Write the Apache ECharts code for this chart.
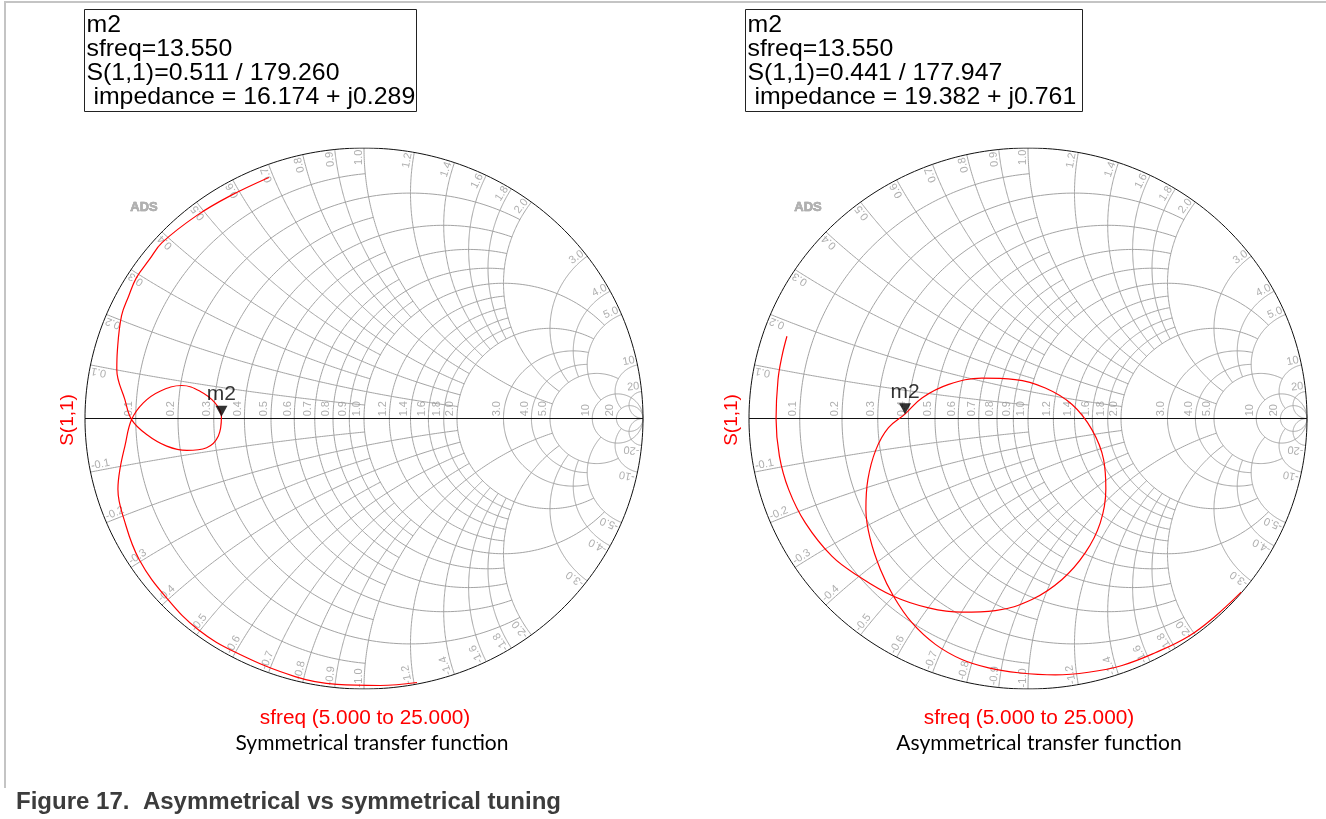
<!DOCTYPE html>
<html><head><meta charset="utf-8">
<script src="https://cdn.jsdelivr.net/npm/echarts@6/dist/echarts.min.js"></script>
<style>html,body{margin:0;padding:0;background:#fff}#c{width:1326px;height:819px}</style>
</head><body><div id="c"></div>
<script>
// ---------- values ----------
// Smith-chart grid values (normalised resistance / reactance) and how far each line runs
const rValues = [0.1,0.2,0.3,0.4,0.5,0.6,0.7,0.8,0.9,1.0,1.2,1.4,1.6,1.8,2.0,3.0,4.0,5.0,10,20];
const rLimits = [1,2,1,2,1,2,1,2,1,5,2,2,2,2,5,5,5,10,Infinity,Infinity];
const xValues = [0.1,0.2,0.3,0.4,0.5,0.6,0.7,0.8,0.9,1.0,1.2,1.4,1.6,1.8,2.0,3.0,4.0,5.0,10,20];
const xLimits = [1,2,1,2,1,2,1,2,1,5,2,2,2,2,5,5,5,10,20,Infinity];
const tickLabels = ['0.1','0.2','0.3','0.4','0.5','0.6','0.7','0.8','0.9','1.0','1.2','1.4','1.6','1.8','2.0','3.0','4.0','5.0','10','20'];

// S(1,1) traces, reflection coefficient (real, imaginary), sfreq 5 -> 25
const symRe = [0.190,0.057,-0.097,-0.247,-0.459,-0.595,-0.703,-0.806,-0.860,-0.882,-0.875,-0.857,-0.833,-0.791,-0.731,-0.653,-0.588,-0.534,-0.511,-0.522,-0.564,-0.635,-0.707,-0.779,-0.833,-0.857,-0.886,-0.884,-0.869,-0.844,-0.816,-0.769,-0.724,-0.600,-0.480,-0.341];
const symIm = [-0.976,-0.987,-0.983,-0.954,-0.865,-0.780,-0.669,-0.521,-0.373,-0.262,-0.189,-0.102,-0.004,0.058,0.101,0.122,0.101,0.058,0.007,-0.065,-0.108,-0.118,-0.102,-0.059,-0.004,0.070,0.181,0.250,0.380,0.451,0.520,0.588,0.650,0.750,0.823,0.891];
const asymRe = [0.764,0.671,0.576,0.456,0.337,0.217,0.098,-0.034,-0.141,-0.237,-0.332,-0.416,-0.482,-0.529,-0.565,-0.581,-0.574,-0.545,-0.500,-0.441,-0.380,-0.284,-0.165,-0.046,0.062,0.158,0.229,0.271,0.279,0.259,0.205,0.122,0.014,-0.117,-0.237,-0.356,-0.482,-0.607,-0.703,-0.798,-0.858,-0.891,-0.903,-0.896,-0.882,-0.864];
const asymIm = [-0.642,-0.731,-0.805,-0.866,-0.913,-0.938,-0.948,-0.940,-0.922,-0.891,-0.835,-0.755,-0.657,-0.558,-0.447,-0.336,-0.226,-0.115,-0.034,0.016,0.076,0.126,0.149,0.144,0.113,0.052,-0.041,-0.152,-0.262,-0.386,-0.497,-0.595,-0.669,-0.710,-0.716,-0.700,-0.657,-0.583,-0.509,-0.386,-0.262,-0.139,-0.001,0.144,0.230,0.304];

// marker m2
const markerMag = [0.511, 0.441];
const markerAng = [179.260, 177.947];
const markerLines = [
  ['m2','sfreq=13.550','S(1,1)=0.511 / 179.260',' impedance = 16.174 + j0.289'],
  ['m2','sfreq=13.550','S(1,1)=0.441 / 177.947',' impedance = 19.382 + j0.761']
];
const chartTitles = ['Symmetrical transfer function','Asymmetrical transfer function'];
const sweepText = 'sfreq (5.000 to 25.000)';
const caption = 'Figure 17.  Asymmetrical vs symmetrical tuning';

// ---------- geometry helpers ----------
function gamma(r, x){ const d=(r+1)*(r+1)+x*x; return [(r*r-1+x*x)/d, 2*x/d]; }
function rCurve(r, xmax){
  const pm = isFinite(xmax) ? Math.atan(xmax/(1+r)) : Math.PI/2-1e-4;
  const pts=[]; const N=220;
  for(let k=0;k<=N;k++){ const p=-pm+2*pm*k/N; pts.push(gamma(r,(1+r)*Math.tan(p))); }
  return pts;
}
function xCurve(x, rmax){
  const ax=Math.abs(x); const hi=Math.atan(ax);
  const lo = isFinite(rmax) ? Math.atan(ax/(rmax+1)) : 1e-4;
  const pts=[]; const N=160;
  for(let k=0;k<=N;k++){ const a=hi+(lo-hi)*k/N; const r=Math.max(ax/Math.tan(a)-1,0); pts.push(gamma(r,x)); }
  return pts;
}
const SX=279, SY=270.5;
const grids=[{left:85,top:148,width:558,height:541},{left:749,top:148,width:558,height:541}];
const FONT='"Liberation Sans", Arial, sans-serif';

const gridCurves=[];
rValues.forEach((r,k)=>gridCurves.push({coords:rCurve(r,rLimits[k])}));
xValues.forEach((x,k)=>{ gridCurves.push({coords:xCurve(x,xLimits[k])}); gridCurves.push({coords:xCurve(-x,xLimits[k])}); });
const rim=[]; for(let k=0;k<=360;k++){ const t=k*Math.PI/180; rim.push([Math.cos(t),Math.sin(t)]); }
const outline=[{coords:rim},{coords:[[-1,0],[1,0]]}];

const labelData=[];
rValues.forEach((r,k)=>{
  const g=(r-1)/(r+1);
  labelData.push({value:[g-0.004,0.008],label:{formatter:tickLabels[k],rotate:90,align:'left',verticalAlign:'bottom'}});
});
xValues.forEach((x,k)=>{
  [1,-1].forEach(s=>{
    const g=gamma(0,s*x);
    const th=Math.atan2(g[1]*SY,g[0]*SX)*180/Math.PI;
    const pos=[g[0]*0.994,g[1]*0.994];
    if(s>0) labelData.push({value:pos,label:{formatter:tickLabels[k],rotate:th,align:'right',verticalAlign:'bottom'}});
    else labelData.push({value:pos,label:{formatter:'-'+tickLabels[k],rotate:th+180,align:'left',verticalAlign:'bottom'}});
  });
});

const traces=[[symRe,symIm],[asymRe,asymIm]];
const series=[], xAxes=[], yAxes=[];
grids.forEach((g,i)=>{
  xAxes.push({gridIndex:i,type:'value',min:-1,max:1,show:false});
  yAxes.push({gridIndex:i,type:'value',min:-1,max:1,show:false});
  series.push({type:'lines',coordinateSystem:'cartesian2d',xAxisIndex:i,yAxisIndex:i,polyline:true,silent:true,z:1,
    lineStyle:{color:'#a4a4a4',width:1,opacity:1},data:gridCurves});
  series.push({type:'lines',coordinateSystem:'cartesian2d',xAxisIndex:i,yAxisIndex:i,polyline:true,silent:true,z:2,
    lineStyle:{color:'#111',width:1,opacity:1},data:outline});
  series.push({type:'scatter',xAxisIndex:i,yAxisIndex:i,silent:true,z:3,symbolSize:1,itemStyle:{color:'rgba(0,0,0,0)'},
    label:{show:true,position:'inside',distance:0,color:'#9a9a9a',fontSize:11,fontFamily:FONT},data:labelData});
  const [re,im]=traces[i];
  series.push({type:'line',xAxisIndex:i,yAxisIndex:i,silent:true,z:4,smooth:0.4,showSymbol:false,
    lineStyle:{color:'#ff0000',width:1.2},data:re.map((v,k)=>[v,im[k]])});
  const a=markerAng[i]*Math.PI/180;
  series.push({type:'scatter',xAxisIndex:i,yAxisIndex:i,silent:true,z:5,symbol:'triangle',symbolRotate:180,
    symbolSize:[12,11],symbolOffset:[0,-5.5],itemStyle:{color:'#000'},
    label:{show:true,formatter:'m2',position:'top',distance:1,fontSize:21,color:'#000',fontFamily:FONT},
    data:[[markerMag[i]*Math.cos(a),markerMag[i]*Math.sin(a)]]});
});

const graphic=[
  {type:'polyline',shape:{points:[[1326,2],[5,2],[5,788]]},style:{stroke:'#c4c4c4',lineWidth:2,fill:null},silent:true}
];
const boxX=[[84.5,332],[745.5,337]];
const cx=[364,1028];
[0,1].forEach(i=>{
  graphic.push({type:'rect',shape:{x:boxX[i][0],y:9.5,width:boxX[i][1],height:102},style:{fill:'#fff',stroke:'#222',lineWidth:1},silent:true});
  graphic.push({type:'text',x:boxX[i][0]+2,y:13,scaleX:1.035,style:{text:markerLines[i].join('\n'),font:'24px '+FONT,fill:'#000',lineHeight:24},silent:true});
  graphic.push({type:'text',x:cx[i]-296,y:420,rotation:Math.PI/2,style:{text:'S(1,1)',font:'19px '+FONT,fill:'#ff0000',textAlign:'center',textVerticalAlign:'middle'},silent:true});
  graphic.push({type:'text',x:cx[i]+1,y:718,scaleX:1.04,style:{text:sweepText,font:'20px '+FONT,fill:'#ff0000',textAlign:'center',textVerticalAlign:'middle'},silent:true});
  graphic.push({type:'text',x:cx[i]+8+(i?3:0),y:743,style:{text:chartTitles[i],font:'21px Lato, "Noto Sans", sans-serif',fill:'#000',textAlign:'center',textVerticalAlign:'middle'},silent:true});
  graphic.push({type:'text',x:cx[i]-220,y:207,style:{text:'ADS',font:'bold 13px '+FONT,fill:'#b0b0b0',stroke:'#808080',lineWidth:0.5,textAlign:'center',textVerticalAlign:'middle'},silent:true});
});
graphic.push({type:'text',x:16,y:803,scaleX:1.045,style:{text:caption,font:'bold 23px '+FONT,fill:'#3c3c3c',textAlign:'left',textVerticalAlign:'middle'},silent:true});

const chart=echarts.init(document.getElementById('c'));
chart.setOption({animation:false,backgroundColor:'#fff',grid:grids,xAxis:xAxes,yAxis:yAxes,series:series,graphic:graphic});
</script></body></html>
